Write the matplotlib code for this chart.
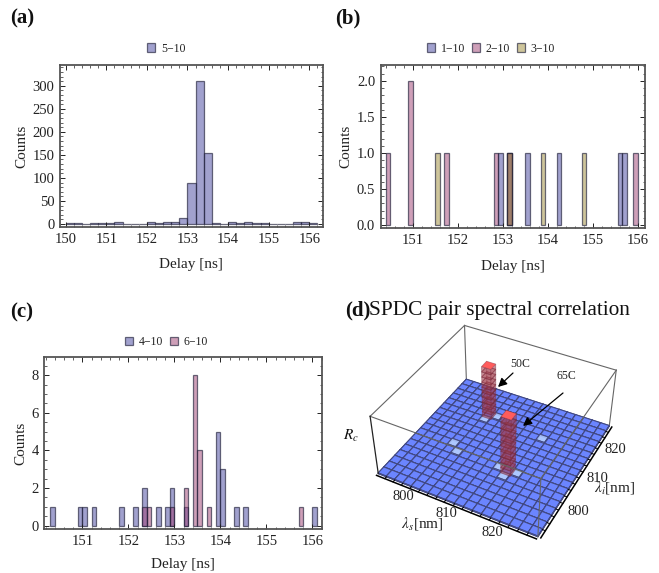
import numpy as np
import matplotlib
matplotlib.use("Agg")
import matplotlib.pyplot as plt
from matplotlib.patches import Patch, FancyArrowPatch
from mpl_toolkits.mplot3d import proj3d

plt.rcParams['font.family'] = ['Liberation Serif', 'DejaVu Serif']
plt.rcParams['mathtext.fontset'] = 'stix'

W, H = 659, 573
# ---- data ----
a_start, a_width = 150.0, 0.2
a_counts = [3,2,0,3,2,2,5,0,1,0,5,3,5,5,14,88,310,155,3,0,5,3,4,3,2,0,1,0,5,5,2]

b_1_10 = [152.9, 153.1, 153.5, 154.2, 155.55, 155.65]
b_1_10_v = [1, 1, 1, 1, 1, 1]
b_2_10 = [150.4, 150.9, 151.7, 152.8, 153.1, 155.9]
b_2_10_v = [1, 2, 1, 1, 1, 1]
b_3_10 = [151.5, 153.1, 153.85, 154.75]
b_3_10_v = [1, 1, 1, 1]

c_4_10 = [150.3,150.9,151.0,151.2,151.8,152.1,152.3,152.6,152.8,152.9,153.2,153.9,154.0,154.3,154.5,156.0]
c_4_10_v = [1,1,1,1,1,1,2,1,1,2,1,5,3,1,1,1]
c_6_10 = [152.3,152.4,152.9,153.2,153.4,153.5,153.7,155.7]
c_6_10_v = [1,1,1,2,8,4,1,1]

d_start, d_step, d_n = 792.0, 2.0, 18
d_tall_i = [5, 11]        # lambda_s cell
d_tall_j = [13, 6]        # lambda_i cell
d_tall_h = [0.9, 0.98]
d_bump_i = [5, 6, 10, 11, 12, 4, 5, 12]
d_bump_j = [12, 13, 6, 5, 6, 7, 6, 12]
d_bump_h = [0.03, 0.03, 0.03, 0.03, 0.03, 0.03, 0.03, 0.03]
d_ticks = [800, 810, 820]

BLUE = (0.27, 0.27, 0.62, 0.5)
PINK = (0.62, 0.25, 0.45, 0.5)
OLIVE = (0.62, 0.55, 0.22, 0.5)
EDGE = (0.12, 0.12, 0.22, 0.65)

fig = plt.figure(figsize=(W/100, H/100), dpi=100, facecolor='white')

def rect(l, t, r, b):
    return [l/W, 1-b/H, (r-l)/W, (b-t)/H]

def style(ax, xminor, ymajor, yminor, xticks, xlim, ylim, pad):
    ax.set_xticks(xticks)
    ax.set_xticks(np.arange(150, 156.5, xminor), minor=True)
    ax.set_yticks(ymajor)
    ax.set_yticks(yminor, minor=True)
    ax.tick_params(which='major', direction='in', top=True, right=True, length=3.5, width=0.7,
                   labelsize=10.5, pad=4, color='#222222', labelcolor='#222222')
    ax.tick_params(which='minor', direction='in', top=True, right=True, length=1.8, width=0.5, color='#222222')
    for s in ax.spines.values():
        s.set_color('#555555'); s.set_linewidth(1.3)
    ax.set_xlabel('Delay [ns]', fontsize=11, color='#222222', labelpad=pad)
    ax.set_ylabel('Counts', fontsize=11, color='#222222', labelpad=3)
    ax.set_xlim(*xlim); ax.set_ylim(*ylim)

def bars(ax, x, v, w, c):
    ax.bar(x, v, width=w, align='edge', facecolor=c, edgecolor=EDGE, linewidth=0.9)

def legend(cx, y, labels, colors):
    hs = [Patch(facecolor=c, edgecolor=EDGE, linewidth=0.9) for c in colors]
    fig.legend(hs, labels, loc='center', bbox_to_anchor=(cx/W, 1-y/H), ncol=len(labels), frameon=False,
               fontsize=8.5, handlelength=0.7, handleheight=0.7, handletextpad=0.5, columnspacing=0.55,
               labelcolor='#222222')

# (a)
axa = fig.add_axes(rect(60, 65, 322.7, 227))
xa = a_start + a_width*np.arange(len(a_counts))
bars(axa, xa, a_counts, a_width, BLUE)
style(axa, 0.2, np.arange(0, 301, 50), np.arange(0, 341, 10), np.arange(150, 157), (149.86, 156.33), (-6.5, 345), 9)
legend(166, 48.5, ['5\u221210'], [BLUE])

# (b)
axb = fig.add_axes(rect(380.7, 65, 645, 228))
bars(axb, b_1_10, b_1_10_v, 0.1, BLUE)
bars(axb, b_2_10, b_2_10_v, 0.1, PINK)
bars(axb, b_3_10, b_3_10_v, 0.1, OLIVE)
style(axb, 0.2, np.arange(0, 2.1, 0.5), np.arange(0, 2.21, 0.1), np.arange(151, 157), (150.29, 156.16), (-0.04, 2.22), 10)
axb.set_yticklabels(['0.0', '0.5', '1.0', '1.5', '2.0'])
legend(491, 48.5, ['1\u221210', '2\u221210', '3\u221210'], [BLUE, PINK, OLIVE])

# (c)
axc = fig.add_axes(rect(44.3, 357.3, 321.7, 529.3))
bars(axc, c_4_10, c_4_10_v, 0.1, BLUE)
bars(axc, c_6_10, c_6_10_v, 0.1, PINK)
style(axc, 0.2, np.arange(0, 9, 2), np.arange(0, 9, 0.5), np.arange(151, 157), (150.17, 156.2), (-0.19, 8.95), 7)
legend(166.5, 342, ['4\u221210', '6\u221210'], [BLUE, PINK])

# panel letters
for x, y, s in [(10, 18, '(a)'), (335, 18, '(b)'), (10, 312, '(c)')]:
    fig.text(x/W, 1-y/H, s, fontsize=15, fontweight='bold', va='center', ha='left', color='#111111')
fig.text(345/W, 1-310/H, '(d)', fontsize=15, fontweight='bold', va='center', ha='left', color='#111111')
fig.text(369/W, 1-310/H, 'SPDC pair spectral correlation', fontsize=15.3, va='center', ha='left', color='#111111')

# (d)
ax3 = fig.add_axes(rect(330, 299, 659, 551), projection='3d')
ax3.set_proj_type('persp', focal_length=0.55)
ax3.view_init(elev=40, azim=-62)
ax3.set_box_aspect((1, 1, 0.42), zoom=1.0)
ax3.computed_zorder = False
x0, x1 = d_start, d_start + d_step*d_n
ax3.set_xlim(x0, x1); ax3.set_ylim(x0, x1); ax3.set_zlim(0, 1)
ax3.set_axis_off()
ax3.patch.set_alpha(0)

FLOOR = 0.012
px, py, dz, cols = [], [], [], []
BASE = (0.42, 0.52, 1.0, 1.0)
LIGHT = (0.68, 0.78, 1.0, 0.9)
bump = dict(zip(zip(d_bump_i, d_bump_j), d_bump_h))
for i in range(d_n):
    for j in range(d_n):
        h = bump.get((i, j), FLOOR)
        px.append(x0+i*d_step); py.append(x0+j*d_step); dz.append(h)
        cols += [LIGHT if (i, j) in bump else BASE]*6

# tall columns, split into storeys
tx, ty, tz, tdz, tcols = [], [], [], [], []
grow = 0.2
for i, j, h in zip(d_tall_i, d_tall_j, d_tall_h):
    n = 10
    for k in range(n):
        tx.append(x0+i*d_step-grow/2); ty.append(x0+j*d_step-grow/2); tz.append(k*h/n); tdz.append(h/n)
        side = (0.62, 0.22, 0.28, 0.33)
        tcols += [side, (1.0, 0.36, 0.36, 1.0) if k == n-1 else (0.8, 0.3, 0.33, 0.04), side, side, side, side]

# back box edges
box = dict(color='#666666', lw=0.8)
ax3.plot([x0, x0], [x1, x1], [0, 1], zorder=1, **box)
ax3.plot([x0, x1], [x1, x1], [1, 1], zorder=1, **box)
ax3.plot([x0, x0], [x0, x1], [1, 1], zorder=1, **box)
ax3.plot([x1, x1], [x1, x1], [0, 1], zorder=1, **box)
ax3.bar3d(px, py, np.zeros(len(px)), d_step, d_step, dz, color=cols, edgecolor=(0.25, 0.28, 0.5, 0.9),
          linewidth=0.8, shade=False, zorder=2)
ax3.bar3d(tx, ty, tz, d_step+grow, d_step+grow, tdz, color=tcols, edgecolor=(0.45, 0.15, 0.22, 0.25),
          linewidth=0.6, shade=False, zorder=2.5)
# front box edges
ax3.plot([x0, x1], [x0, x0], [1, 1], zorder=3, **box)
ax3.plot([x1, x1], [x0, x1], [1, 1], zorder=3, **box)
ax3.plot([x1, x1], [x0, x0], [0, 1], zorder=3, **box)
ax3.plot([x0, x0], [x0, x0], [0, 1], zorder=3, color='#222222', lw=0.9)
# floor edges with axis ticks
ax3.plot([x0, x1], [x0-0.6, x0-0.6], [0, 0], zorder=4, color='black', lw=1.1)
ax3.plot([x1+0.6, x1+0.6], [x0, x1], [0, 0], zorder=4, color='black', lw=1.1)
for t in np.arange(794, 828, 2):
    ax3.plot([t, t], [x0-0.6, x0], [0, 0], zorder=4, color='black', lw=0.7)
    ax3.plot([x1, x1+0.6], [t, t], [0, 0], zorder=4, color='black', lw=0.7)

# tick labels placed through the axes' own 3D projection
fig.canvas.draw()
M = ax3.get_proj()
for t in d_ticks:
    for xt, yt in [(t, x0-3), (x1+4, t+1.5)]:
        xp, yp, _ = proj3d.proj_transform(xt, yt, 0, M)
        ax3.text2D(xp, yp, str(t), transform=ax3.transData, fontsize=10.5, ha='center', va='center',
                   color='#222222', zorder=5)

fig.text(351/W, 1-436/H, r'$R_c$', fontsize=11, ha='center', va='center', color='#111111')
fig.text(422/W, 1-523/H, r'$\lambda_s$[nm]', fontsize=11, ha='center', va='center', color='#222222')
fig.text(615/W, 1-488/H, r'$\lambda_i$[nm]', fontsize=11, ha='center', va='center', color='#222222')
fig.text(520/W, 1-364/H, '50C', fontsize=8.5, ha='center', va='center', color='#222222')
fig.text(566/W, 1-376/H, '65C', fontsize=8.5, ha='center', va='center', color='#222222')
fig.add_artist(FancyArrowPatch((513/W, 1-373/H), (498/W, 1-387/H), transform=fig.transFigure,
               arrowstyle='-|>', mutation_scale=13, color='black', lw=0.9, shrinkA=0, shrinkB=0))
fig.add_artist(FancyArrowPatch((563/W, 1-393/H), (523/W, 1-426/H), transform=fig.transFigure,
               arrowstyle='-|>', mutation_scale=13, color='black', lw=0.9, shrinkA=0, shrinkB=0))

fig.savefig('out.png', dpi=100)
